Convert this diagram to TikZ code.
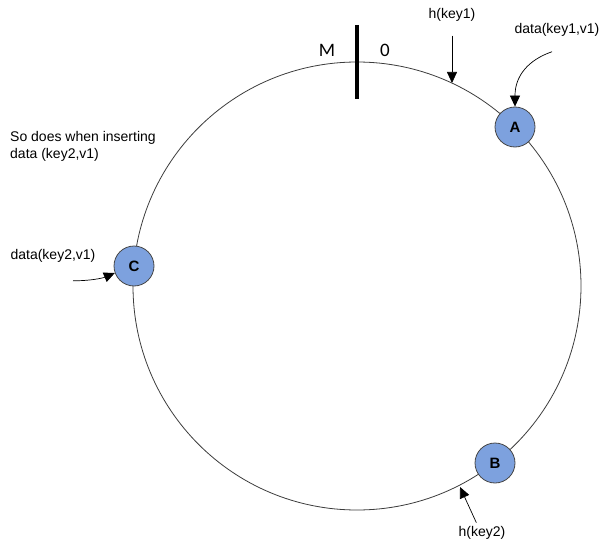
\documentclass[tikz,border=0pt]{standalone}
\usepackage{fontspec}
\setmainfont{Liberation Sans}
\newfontfamily\markfont{Carlito}
\usetikzlibrary{arrows.meta}
\definecolor{nodefill}{RGB}{125,161,222}
\definecolor{nodeedge}{RGB}{70,70,70}
\definecolor{ringcol}{RGB}{60,60,60}
\begin{document}
\begin{tikzpicture}[x=1pt,y=-1pt,
  server/.style={circle, draw=nodeedge, line width=0.8pt, fill=nodefill,
    minimum size=40pt, inner sep=0pt, font=\fontsize{15}{17}\selectfont\bfseries},
  lbl/.style={inner sep=0pt, font=\fontsize{14}{17}\selectfont},
  endlbl/.style={inner sep=0pt, font=\fontsize{19}{21}\selectfont\markfont},
  arr/.style={-{Triangle[length=11pt,width=10pt]}, line width=0.7pt},
]
\useasboundingbox (0,0) rectangle (603,543);

% hash ring
\coordinate (O) at (357,286);
\draw[ringcol, line width=0.8pt] (O) circle[radius=224pt];

% wrap-around marker between M and 0
\draw[line width=4pt] (357,25) -- (357,99);
\node[endlbl] (M) at (327,50) {M};
\node[endlbl] (zero) at (385,50) {0};

% servers on the ring
\node[server] (A) at (515,127) {A};
\node[server] (B) at (495,463) {B};
\node[server] (C) at (134,266) {C};

% labels
\node[lbl] (hk1) at (452,15) {h(key1)};
\node[lbl] (hk2) at (482,533) {h(key2)};
\node[lbl] (d1) at (557,30) {data(key1,v1)};
\node[lbl] (d2) at (53,256) {data(key2,v1)};
\node[lbl, align=left, anchor=north west] (note) at (10,131)
  {So does when inserting\\data (key2,v1)};

% hash positions on the ring
\coordinate (k1) at (452,83);
\coordinate (k2) at (460,487);

% arrows
\draw[arr, shorten <=14pt] (hk1.south) -- (k1);
\draw[arr, shorten <=4pt] ([xshift=-4pt]hk2.north) -- (k2);
\draw[arr] ([shift={(-5,15)}]d1.south) .. controls (528,60) and (515,76) .. (A.north);
\draw[arr] ([shift={(20,18)}]d2.south) .. controls (90,281) and (103,278) .. (C.200);
\end{tikzpicture}
\end{document}
